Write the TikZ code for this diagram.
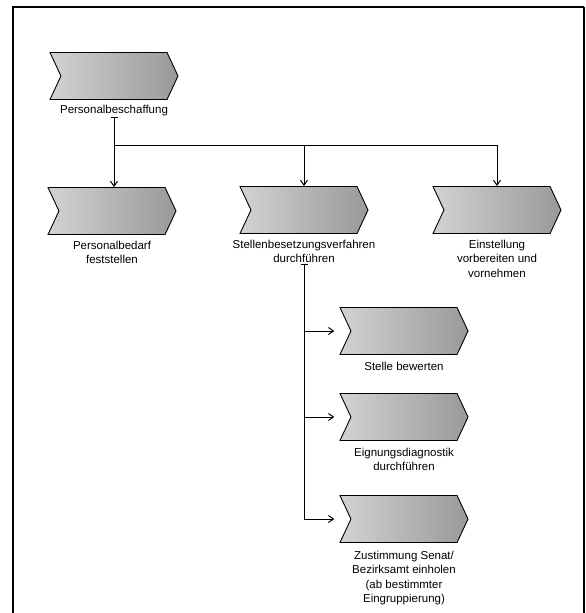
\documentclass[tikz,border=0pt]{standalone}
\usepackage{fontspec}
\setmainfont{Liberation Sans}
\usetikzlibrary{arrows.meta, shapes.symbols, positioning}

\begin{document}
\begin{tikzpicture}[x=1pt, y=-1pt,
    proc/.style={signal, signal from=west, signal to=east, signal pointer angle=130,
      draw=black, line width=0.9pt, left color=gray!35, right color=gray!80,
      minimum width=128pt, minimum height=47pt, inner sep=0pt},
    txt/.style={align=center, font=\fontsize{11.5}{14.5}\selectfont, inner sep=1pt},
    arr/.style={line width=1pt, -{Straight Barb[length=5pt,width=7pt]}},
    link/.style={line width=1pt, {Bar[width=7pt]}-{Straight Barb[length=5pt,width=7pt]}}]
  \useasboundingbox (0,0) rectangle (586,613);
  \draw[line width=2.8pt] (13,613) -- (13,7) -- (584,7);
  \draw[line width=1.8pt] (584,7) -- (584,613);

  % top
  \node[proc] (ps) at (114,76) {};
  \node[txt, below=4pt of ps] (psl) {Personalbeschaffung};

  % second row
  \node[proc] (pb) at (112,211) {};
  \node[txt, below=5pt of pb] (pbl) {Personalbedarf\\feststellen};
  \node[proc] (sb) at (304,210) {};
  \node[txt, below=5pt of sb] (sbl) {Stellenbesetzungsverfahren\\durchführen};
  \node[proc] (es) at (497,210) {};
  \node[txt, below=5pt of es] (esl) {Einstellung\\vorbereiten und\\vornehmen};

  % column under Stellenbesetzung
  \node[proc] (sv) at (404,331) {};
  \node[txt, below=6pt of sv] (svl) {Stelle bewerten};
  \node[proc] (ed) at (404,417) {};
  \node[txt, below=6pt of ed] (edl) {Eignungsdiagnostik\\durchführen};
  \node[proc] (zs) at (404,519) {};
  \node[txt, below=7pt of zs] (zsl) {Zustimmung Senat/\\Bezirksamt einholen\\(ab bestimmter\\Eingruppierung)};

  \coordinate (fork) at (psl.south |- 0,145);
  \draw[link] (psl.south) -- (pb.north -| psl.south);
  \draw[arr] (fork) -| (sb.north);
  \draw[arr] (fork) -| (es.north);

  \draw[link, shorten >=5pt] (sbl.south) |- (sv.north west |- sv.west);
  \draw[arr, shorten >=5pt] (sbl.south) |- (ed.north west |- ed.west);
  \draw[arr, shorten >=5pt] (sbl.south) |- (zs.north west |- zs.west);
\end{tikzpicture}
\end{document}
